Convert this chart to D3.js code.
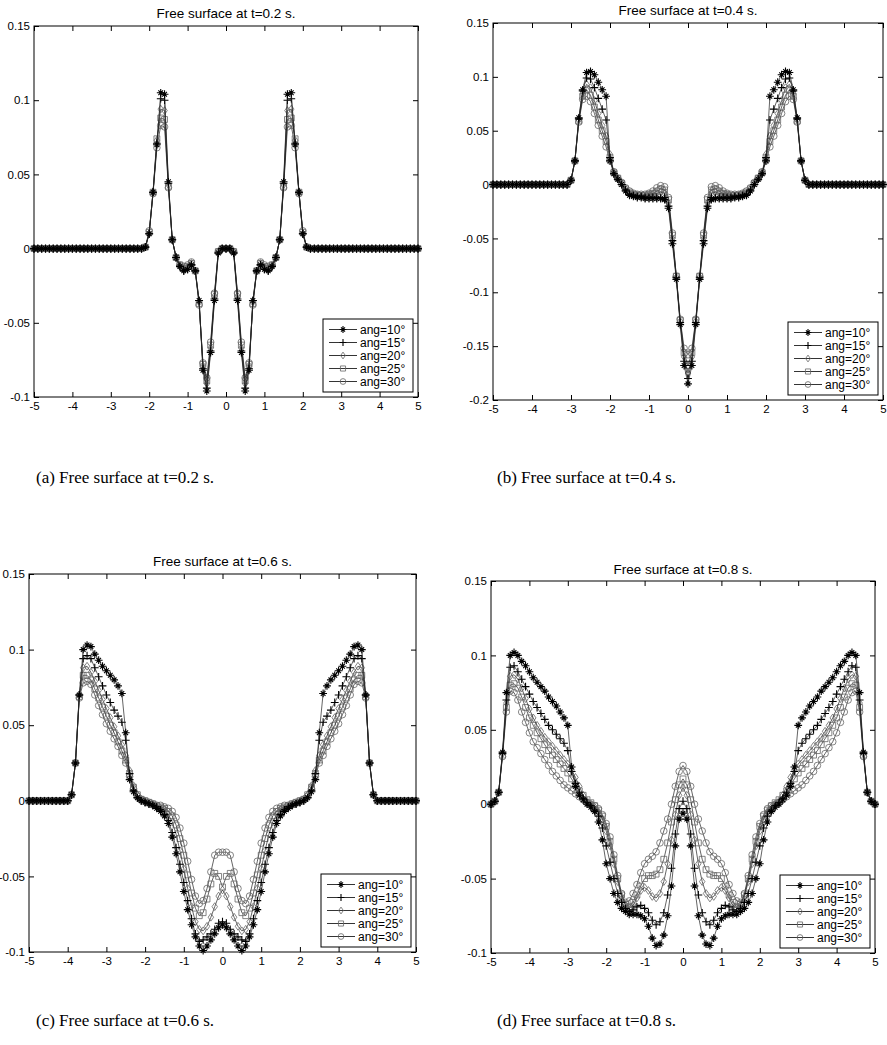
<!DOCTYPE html>
<html>
<head>
<meta charset="utf-8">
<script src="https://cdn.jsdelivr.net/npm/d3@7"></script>
<style>
  body { margin: 0; background: #fff; }
  svg { display: block; }
</style>
</head>
<body>
<div class="chart"></div>
<script>
// x sample points (right half). The free surface profiles are symmetric about x = 0,
// so only x >= 0 was read off the figure and the left half is mirrored.
const xHalf = [0,0.1,0.2,0.3,0.4,0.5,0.6,0.7,0.8,0.9,1,1.1,1.2,1.3,1.4,1.5,1.6,1.7,1.8,1.9,
  2,2.1,2.2,2.3,2.4,2.5,2.6,2.7,2.8,2.9,3,3.1,3.2,3.3,3.4,3.5,3.6,3.7,3.8,3.9,
  4,4.1,4.2,4.3,4.4,4.5,4.6,4.7,4.8,4.9,5];

const angles = ["10", "15", "20", "25", "30"];
const xTicks = [-5,-4,-3,-2,-1,0,1,2,3,4,5];

// t = 0.2 s
const a10 = [0,0,-0.003,-0.035,-0.07,-0.096,-0.082,-0.035,-0.015,-0.011,-0.014,-0.015,-0.012,-0.006,0.006,0.045,0.104,0.105,0.07,0.038,0.01,0.001,
  0,0,0,0,0,0,0,0,0,0,0,0,0,0,0,0,0,0,0,0,0,0,0,0,0,0,0,0,0];
const a15 = [0,0,-0.003,-0.034,-0.069,-0.094,-0.081,-0.035,-0.015,-0.011,-0.014,-0.015,-0.012,-0.006,0.006,0.044,0.1,0.101,0.071,0.038,0.01,0.001,
  0,0,0,0,0,0,0,0,0,0,0,0,0,0,0,0,0,0,0,0,0,0,0,0,0,0,0,0,0];
const a20 = [0,0,-0.002,-0.032,-0.067,-0.091,-0.079,-0.036,-0.015,-0.01,-0.013,-0.014,-0.012,-0.006,0.006,0.043,0.093,0.094,0.073,0.038,0.01,0.001,
  0,0,0,0,0,0,0,0,0,0,0,0,0,0,0,0,0,0,0,0,0,0,0,0,0,0,0,0,0];
const a25 = [0,0,-0.002,-0.031,-0.065,-0.089,-0.078,-0.037,-0.015,-0.01,-0.012,-0.013,-0.011,-0.006,0.006,0.042,0.087,0.088,0.074,0.038,0.011,0.001,
  0,0,0,0,0,0,0,0,0,0,0,0,0,0,0,0,0,0,0,0,0,0,0,0,0,0,0,0,0];
const a30 = [0,0,-0.002,-0.03,-0.063,-0.087,-0.077,-0.038,-0.015,-0.009,-0.011,-0.012,-0.011,-0.006,0.006,0.041,0.082,0.083,0.068,0.037,0.012,0.001,
  0,0,0,0,0,0,0,0,0,0,0,0,0,0,0,0,0,0,0,0,0,0,0,0,0,0,0,0,0];

// t = 0.4 s
const b10 = [-0.185,-0.168,-0.13,-0.088,-0.055,-0.022,-0.014,-0.013,-0.013,-0.013,-0.013,-0.013,-0.012,-0.012,-0.011,-0.01,-0.006,0,0.005,0.01,
  0.022,0.082,0.088,0.095,0.102,0.105,0.104,0.088,0.062,0.022,0.004,
  0,0,0,0,0,0,0,0,0,0,0,0,0,0,0,0,0,0,0,0];
const b15 = [-0.18,-0.164,-0.128,-0.086,-0.052,-0.02,-0.012,-0.012,-0.012,-0.012,-0.012,-0.012,-0.011,-0.011,-0.01,-0.009,-0.005,0,0.005,0.01,
  0.025,0.06,0.07,0.08,0.09,0.098,0.099,0.087,0.061,0.022,0.004,
  0,0,0,0,0,0,0,0,0,0,0,0,0,0,0,0,0,0,0,0];
const b20 = [-0.175,-0.16,-0.127,-0.086,-0.05,-0.017,-0.008,-0.007,-0.008,-0.009,-0.01,-0.011,-0.011,-0.01,-0.009,-0.008,-0.004,0.001,0.005,0.011,
  0.028,0.045,0.055,0.066,0.078,0.09,0.093,0.084,0.06,0.022,0.004,
  0,0,0,0,0,0,0,0,0,0,0,0,0,0,0,0,0,0,0,0];
const b25 = [-0.168,-0.156,-0.126,-0.085,-0.047,-0.014,-0.005,-0.004,-0.006,-0.008,-0.009,-0.01,-0.01,-0.01,-0.009,-0.007,-0.004,0.001,0.006,0.011,
  0.025,0.04,0.05,0.06,0.072,0.083,0.088,0.082,0.059,0.022,0.004,
  0,0,0,0,0,0,0,0,0,0,0,0,0,0,0,0,0,0,0,0];
const b30 = [-0.158,-0.152,-0.125,-0.085,-0.045,-0.012,-0.002,-0.001,-0.003,-0.006,-0.008,-0.009,-0.009,-0.009,-0.008,-0.006,-0.003,0.002,0.006,0.012,
  0.022,0.035,0.045,0.055,0.066,0.077,0.082,0.079,0.058,0.022,0.004,
  0,0,0,0,0,0,0,0,0,0,0,0,0,0,0,0,0,0,0,0];

// t = 0.6 s
const c10 = [-0.082,-0.084,-0.088,-0.092,-0.096,-0.099,-0.096,-0.09,-0.082,-0.072,
  -0.06,-0.047,-0.035,-0.024,-0.015,-0.01,-0.007,-0.005,-0.003,-0.002,
  -0.001,0,0.002,0.006,0.014,0.045,0.071,0.076,0.08,0.083,
  0.086,0.089,0.093,0.097,0.102,0.103,0.1,0.07,0.025,0.004,
  0,0,0,0,0,0,0,0,0,0,0];
const c15 = [-0.08,-0.081,-0.085,-0.088,-0.09,-0.092,-0.093,-0.088,-0.078,-0.066,
  -0.054,-0.042,-0.031,-0.021,-0.013,-0.009,-0.006,-0.004,-0.003,-0.002,
  -0.001,0,0.002,0.007,0.018,0.04,0.052,0.056,0.06,0.065,
  0.07,0.076,0.082,0.088,0.094,0.096,0.094,0.07,0.025,0.004,
  0,0,0,0,0,0,0,0,0,0,0];
const c20 = [-0.059,-0.063,-0.07,-0.077,-0.083,-0.086,-0.085,-0.08,-0.07,-0.058,
  -0.045,-0.033,-0.022,-0.014,-0.009,-0.006,-0.005,-0.004,-0.003,-0.002,
  -0.001,0.001,0.004,0.01,0.02,0.03,0.037,0.043,0.049,0.055,
  0.061,0.067,0.073,0.079,0.085,0.089,0.088,0.07,0.025,0.004,
  0,0,0,0,0,0,0,0,0,0,0];
const c25 = [-0.057,-0.05,-0.048,-0.055,-0.065,-0.074,-0.076,-0.071,-0.061,-0.049,
  -0.036,-0.025,-0.016,-0.01,-0.007,-0.005,-0.004,-0.003,-0.002,-0.001,
  0,0.001,0.004,0.009,0.018,0.027,0.033,0.039,0.045,0.05,
  0.056,0.062,0.068,0.074,0.08,0.083,0.083,0.069,0.025,0.004,
  0,0,0,0,0,0,0,0,0,0,0];
const c30 = [-0.034,-0.034,-0.036,-0.047,-0.058,-0.066,-0.068,-0.063,-0.052,-0.04,
  -0.028,-0.018,-0.011,-0.007,-0.005,-0.004,-0.003,-0.003,-0.002,-0.001,
  0,0.001,0.003,0.008,0.016,0.025,0.03,0.036,0.041,0.046,
  0.051,0.057,0.063,0.07,0.077,0.079,0.078,0.068,0.025,0.004,
  0,0,0,0,0,0,0,0,0,0,0];

// t = 0.8 s
const d10 = [-0.006,-0.01,-0.028,-0.055,-0.075,-0.088,-0.094,-0.095,-0.09,-0.082,
  -0.077,-0.075,-0.074,-0.074,-0.074,-0.072,-0.07,-0.066,-0.06,-0.05,
  -0.04,-0.024,-0.012,-0.005,-0.002,0,0.003,0.006,0.012,0.025,
  0.053,0.058,0.062,0.066,0.069,0.072,0.076,0.079,0.082,0.085,
  0.089,0.093,0.096,0.1,0.102,0.1,0.075,0.035,0.008,0.002,0];
const d15 = [0.002,-0.003,-0.02,-0.043,-0.061,-0.073,-0.079,-0.081,-0.078,-0.073,
  -0.07,-0.068,-0.069,-0.071,-0.072,-0.07,-0.066,-0.06,-0.05,-0.039,
  -0.028,-0.016,-0.008,-0.004,-0.001,0.001,0.004,0.008,0.014,0.022,
  0.036,0.041,0.044,0.047,0.05,0.053,0.057,0.061,0.065,0.069,
  0.074,0.079,0.084,0.089,0.093,0.092,0.07,0.034,0.008,0.002,0];
const d20 = [0.011,0.006,-0.007,-0.024,-0.04,-0.052,-0.06,-0.063,-0.062,-0.058,
  -0.056,-0.058,-0.063,-0.068,-0.07,-0.068,-0.062,-0.052,-0.04,-0.028,
  -0.018,-0.01,-0.005,-0.002,0,0.002,0.006,0.012,0.018,0.023,
  0.027,0.03,0.033,0.036,0.039,0.042,0.045,0.049,0.053,0.058,
  0.064,0.071,0.078,0.084,0.087,0.086,0.068,0.034,0.008,0.002,0];
const d25 = [0.017,0.013,0.003,-0.012,-0.026,-0.037,-0.044,-0.047,-0.048,-0.048,
  -0.05,-0.055,-0.061,-0.066,-0.069,-0.067,-0.061,-0.05,-0.037,-0.025,
  -0.015,-0.008,-0.004,-0.001,0.001,0.003,0.006,0.009,0.013,0.017,
  0.021,0.024,0.027,0.03,0.033,0.036,0.04,0.044,0.048,0.053,
  0.058,0.065,0.072,0.078,0.081,0.08,0.065,0.033,0.008,0.002,0];
const d30 = [0.026,0.022,0.012,0,-0.01,-0.018,-0.026,-0.032,-0.035,-0.037,
  -0.04,-0.046,-0.054,-0.06,-0.065,-0.066,-0.06,-0.048,-0.034,-0.022,
  -0.013,-0.007,-0.003,-0.001,0,0.001,0.003,0.005,0.007,0.009,
  0.011,0.013,0.016,0.019,0.022,0.026,0.03,0.034,0.038,0.042,
  0.048,0.055,0.062,0.07,0.075,0.076,0.062,0.032,0.008,0.002,0];

const panels = [
  {title: "Free surface at t=0.2 s.", caption: "(a) Free surface at t=0.2 s.",
   series: [a10, a15, a20, a25, a30], yTicks: [-0.1,-0.05,0,0.05,0.1,0.15]},
  {title: "Free surface at t=0.4 s.", caption: "(b) Free surface at t=0.4 s.",
   series: [b10, b15, b20, b25, b30], yTicks: [-0.2,-0.15,-0.1,-0.05,0,0.05,0.1,0.15]},
  {title: "Free surface at t=0.6 s.", caption: "(c) Free surface at t=0.6 s.",
   series: [c10, c15, c20, c25, c30], yTicks: [-0.1,-0.05,0,0.05,0.1,0.15]},
  {title: "Free surface at t=0.8 s.", caption: "(d) Free surface at t=0.8 s.",
   series: [d10, d15, d20, d25, d30], yTicks: [-0.1,-0.05,0,0.05,0.1,0.15]}
];

// page layout of each axes box (pixels)
const layout = [
  {x0: 34,  x1: 418, y0: 26,  y1: 397, titleY: 18,  capX: 36,  capY: 483},
  {x0: 493, x1: 883, y0: 23,  y1: 400, titleY: 15,  capX: 497, capY: 483},
  {x0: 29,  x1: 416, y0: 574, y1: 952, titleY: 566, capX: 36,  capY: 1026},
  {x0: 491, x1: 875, y0: 581, y1: 953, titleY: 574, capX: 497, capY: 1026}
];

const markers = {
  star: s => `M${-s},0H${s}M0,${-s}V${s}M${-s*0.6},${-s*0.6}L${s*0.6},${s*0.6}M${-s*0.6},${s*0.6}L${s*0.6},${-s*0.6}`,
  plus: s => `M${-s},0H${s}M0,${-s}V${s}`,
  diamond: s => `M0,${-s}L${s*0.7},0L0,${s}L${-s*0.7},0Z`,
  square: s => `M${-s*0.75},${-s*0.75}H${s*0.75}V${s*0.75}H${-s*0.75}Z`,
  circle: s => `M${s*0.85},0A${s*0.85},${s*0.85} 0 1,1 ${-s*0.85},0A${s*0.85},${s*0.85} 0 1,1 ${s*0.85},0Z`
};
const styles = [
  {sym: "star",    color: "#000", width: 1.1},
  {sym: "plus",    color: "#000", width: 1.1},
  {sym: "diamond", color: "#666", width: 0.8},
  {sym: "square",  color: "#666", width: 0.8},
  {sym: "circle",  color: "#666", width: 0.8}
];
const mSize = 3.9;

function mirror(half) {
  const right = half.map((v, i) => [xHalf[i], v]);
  const left = right.slice(1).reverse().map(([xv, v]) => [-xv, v]);
  return left.concat(right);
}
const fmt = d => String(+d.toFixed(2));

const svg = d3.select(".chart")
  .append("svg")
  .attr("width", 887)
  .attr("height", 1045)
  .style("font-family", "'Liberation Sans', Arial, sans-serif");

panels.forEach((p, pi) => {
  const L = layout[pi];
  const x = d3.scaleLinear().domain([-5, 5]).range([L.x0, L.x1]);
  const y = d3.scaleLinear().domain([p.yTicks[0], p.yTicks[p.yTicks.length - 1]]).range([L.y1, L.y0]);
  const g = svg.append("g").attr("class", "panel");

  // axes, ticks pointing inwards on all four sides
  g.append("g")
    .attr("transform", `translate(0,${L.y1})`)
    .call(d3.axisBottom(x).tickValues(xTicks).tickFormat(fmt).tickSizeInner(-5).tickSizeOuter(0).tickPadding(5))
    .call(a => a.select(".domain").remove());
  g.append("g")
    .attr("transform", `translate(0,${L.y0})`)
    .call(d3.axisTop(x).tickValues(xTicks).tickFormat(() => "").tickSizeInner(-5).tickSizeOuter(0))
    .call(a => a.select(".domain").remove());
  g.append("g")
    .attr("transform", `translate(${L.x0},0)`)
    .call(d3.axisLeft(y).tickValues(p.yTicks).tickFormat(fmt).tickSizeInner(-5).tickSizeOuter(0).tickPadding(4))
    .call(a => a.select(".domain").remove());
  g.append("g")
    .attr("transform", `translate(${L.x1},0)`)
    .call(d3.axisRight(y).tickValues(p.yTicks).tickFormat(() => "").tickSizeInner(-5).tickSizeOuter(0))
    .call(a => a.select(".domain").remove());
  g.selectAll(".tick text")
    .attr("font-size", 11.5)
    .attr("font-family", "'Liberation Sans', Arial, sans-serif")
    .attr("fill", "#000");
  g.selectAll(".tick line").attr("stroke", "#000");

  // curves, drawn from the largest angle up so the black markers sit on top
  const line = d3.line().x(d => x(d[0])).y(d => y(d[1]));
  const order = [4, 3, 2, 1, 0];
  order.forEach(si => {
    const pts = mirror(p.series[si]);
    const st = styles[si];
    const sg = g.append("g").attr("class", "series s" + angles[si]);
    sg.append("path")
      .datum(pts)
      .attr("d", line)
      .attr("fill", "none")
      .attr("stroke", "#222")
      .attr("stroke-width", 0.7);
    sg.selectAll("path.mark")
      .data(pts)
      .enter()
      .append("path")
      .attr("class", "mark")
      .attr("transform", d => `translate(${x(d[0])},${y(d[1])})`)
      .attr("d", markers[st.sym](mSize))
      .attr("fill", "none")
      .attr("stroke", st.color)
      .attr("stroke-width", st.width);
  });

  // box
  g.append("rect")
    .attr("x", L.x0).attr("y", L.y0)
    .attr("width", L.x1 - L.x0).attr("height", L.y1 - L.y0)
    .attr("fill", "none").attr("stroke", "#000").attr("stroke-width", 1);

  // title
  g.append("text")
    .attr("x", (L.x0 + L.x1) / 2)
    .attr("y", L.titleY)
    .attr("text-anchor", "middle")
    .attr("font-size", 13.5)
    .text(p.title);

  // legend
  const lw = 90, lh = 73;
  const lx = L.x1 - 5 - lw, ly = L.y1 - 5 - lh;
  const lg = g.append("g").attr("transform", `translate(${lx},${ly})`);
  lg.append("rect")
    .attr("width", lw).attr("height", lh)
    .attr("fill", "#fff").attr("stroke", "#000").attr("stroke-width", 1);
  angles.forEach((ang, i) => {
    const ry = 10.5 + i * 13;
    lg.append("line")
      .attr("x1", 6).attr("x2", 34).attr("y1", ry).attr("y2", ry)
      .attr("stroke", "#000").attr("stroke-width", 0.8);
    lg.append("path")
      .attr("transform", `translate(20,${ry})`)
      .attr("d", markers[styles[i].sym](3.4))
      .attr("fill", "none")
      .attr("stroke", styles[i].color)
      .attr("stroke-width", styles[i].width);
    lg.append("text")
      .attr("x", 37).attr("y", ry + 4.2)
      .attr("font-size", 12)
      .text("ang=" + ang + "°");
  });

  // sub-figure caption
  svg.append("text")
    .attr("x", L.capX)
    .attr("y", L.capY)
    .attr("font-family", "'Liberation Serif', 'Times New Roman', serif")
    .attr("font-size", 17)
    .text(p.caption);
});
</script>
</body>
</html>
